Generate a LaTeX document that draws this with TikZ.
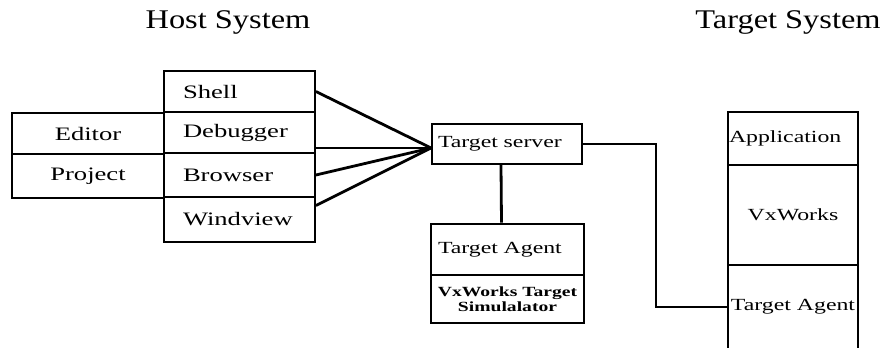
\documentclass[tikz,border=0pt]{standalone}
\usepackage{fontspec}
\setmainfont{Liberation Serif}
\newfontfamily\titlefont{Liberation Serif}[FakeStretch=1.2]
\newfontfamily\boxfont{Liberation Serif}[FakeStretch=1.4]
\begin{document}
\begin{tikzpicture}[x=1pt,y=-1pt,
	box/.style={draw, line width=1.8pt, inner sep=0pt, font=\boxfont\fontsize{17}{20}\selectfont},
	hostbox/.style={box, minimum width=151pt, text width=113pt, inner xsep=19pt, align=left, font=\boxfont\fontsize{19}{22}\selectfont},
	sidebox/.style={box, minimum width=152pt, font=\boxfont\fontsize{19}{22}\selectfont},
	tbox/.style={box, line width=2.6pt},
	wire/.style={line width=2.8pt},
	title/.style={font=\titlefont\fontsize{27}{30}\selectfont}]
	\useasboundingbox (0,0) rectangle (884,349);
	\clip (0,0) rectangle (884,347);

	\node[title] (hosttitle) at (228,22) {Host System};
	\node[title] (tgttitle) at (788,22) {Target System};

	% host tools
	\node[hostbox, minimum height=41pt] (shell) at (239.5,91.5) {Shell};
	\node[hostbox, minimum height=41pt] (debugger) at (239.5,132.5) {Debugger};
	\node[hostbox, minimum height=44pt] (browser) at (239.5,175) {Browser};
	\node[hostbox, minimum height=45pt] (windview) at (239.5,219.5) {Windview};
	\node[sidebox, minimum height=41pt] (editor) at (88,133.5) {Editor};
	\node[sidebox, minimum height=44pt] (project) at (88,176) {Project};

	% target server and simulator
	\node[box, minimum width=150pt, minimum height=40pt, text width=138pt, inner xsep=6pt, align=left] (srv) at (507,144) {Target server};
	\node[tbox, minimum width=153pt, minimum height=51pt, text width=139pt, inner xsep=7pt, align=left] (agent) at (507.5,249.5) {Target Agent};
	\node[tbox, minimum width=153pt, minimum height=48pt, align=center, font=\boxfont\bfseries\fontsize{14}{15}\selectfont] (sim) at (507.5,299) {VxWorks Target\\Simulalator};

	% target system
	\node[tbox, minimum width=130pt, minimum height=53pt, text width=128pt, inner xsep=1pt, align=left] (tapp) at (793,138.5) {Application};
	\node[tbox, minimum width=130pt, minimum height=100pt] (tvx) at (793,215) {VxWorks};
	\node[tbox, minimum width=130pt, minimum height=84pt] (tagent) at (793,307) {Target Agent};

	\coordinate (meet) at ([yshift=-4pt]srv.west);
	\draw[wire] (shell.east) -- (meet);
	\draw[wire] (debugger.east |- meet) -- (meet);
	\draw[wire] (browser.east) -- (meet);
	\draw[wire] ([yshift=14pt]windview.east) -- (meet);
	\draw[wire] ([xshift=-6pt]srv.south) -- ([xshift=-6pt]agent.north);
	\draw[wire] (srv.east) -- ++(73,0) |- (tagent.west);
\end{tikzpicture}
\end{document}
